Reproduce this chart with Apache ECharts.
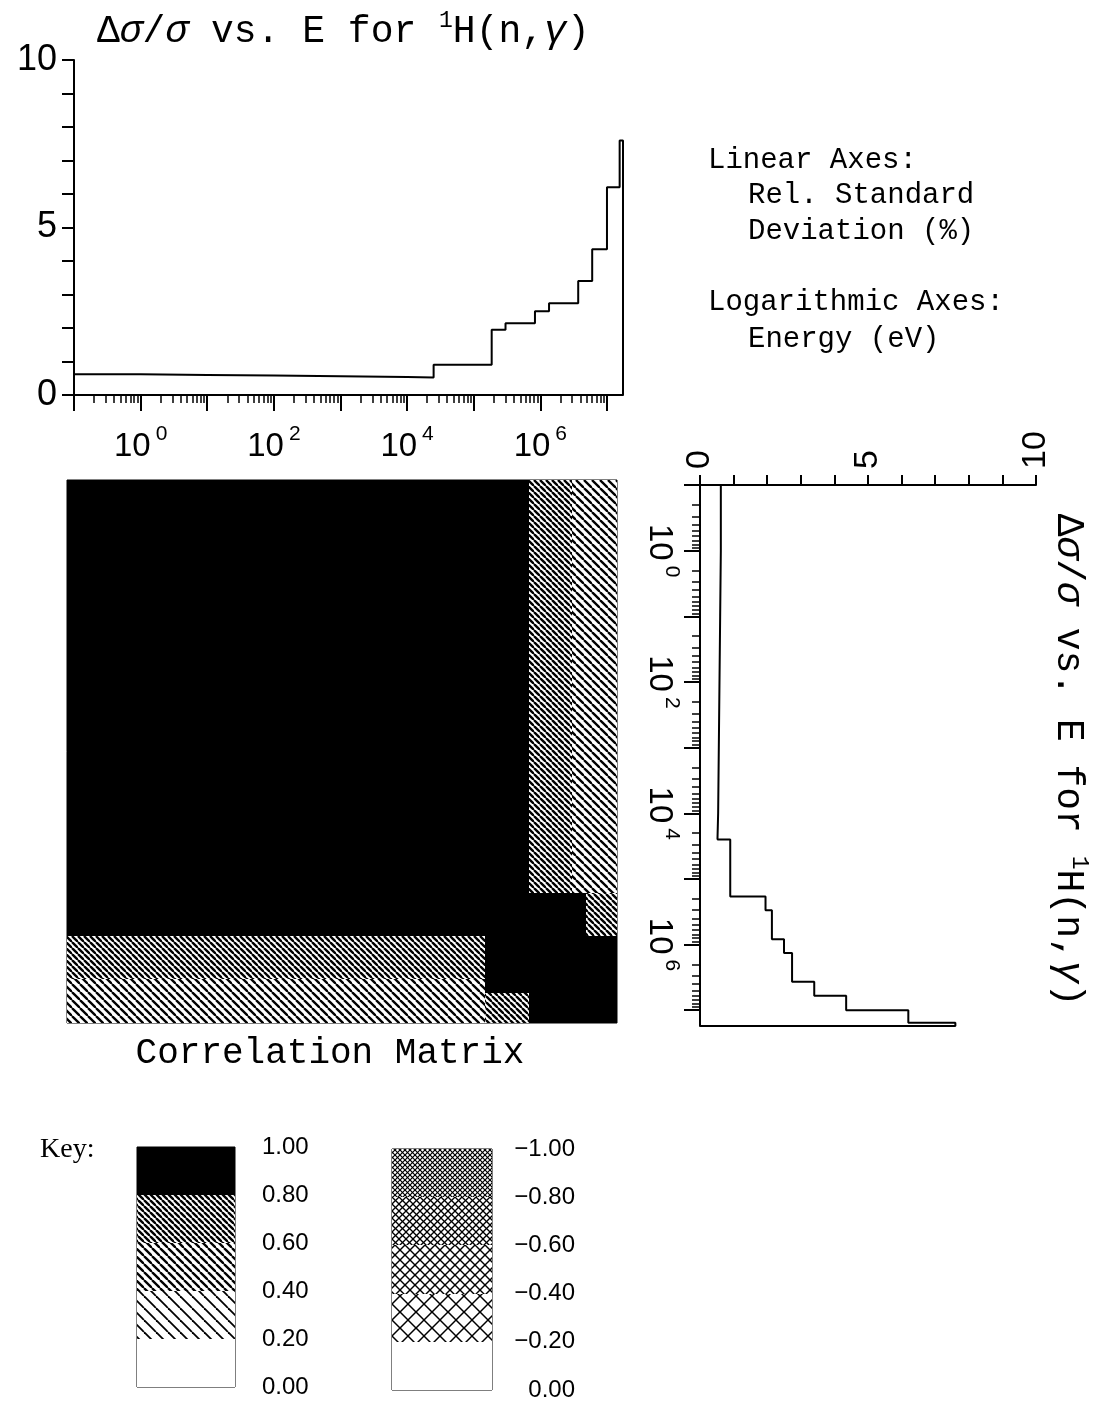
<!DOCTYPE html>
<html><head><meta charset="utf-8">
<script src="https://cdn.jsdelivr.net/npm/echarts@6/dist/echarts.min.js"></script>
<style>html,body{margin:0;padding:0;background:#fff}#c{width:1096px;height:1403px}</style>
</head><body><div id="c"></div>
<script>
// ---- data ----
// energy group boundaries (eV)
const energyEdges = [0.1, 1, 10, 100, 1000, 1e4, 2.5e4, 1.86e5, 3.0e5, 8.3e5, 1.35e6, 3.7e6, 6.0e6, 1.0e7, 1.55e7, 1.74e7];
// relative standard deviation (%) in each group
const relStdDev = [0.62, 0.60, 0.58, 0.56, 0.54, 0.52, 0.90, 1.95, 2.14, 2.50, 2.74, 3.40, 4.35, 6.20, 7.60];
// correlation matrix between groups
const correlation = [
  [1.00,0.95,0.95,0.95,0.95,0.95,0.92,0.85,0.85,0.70,0.70,0.50,0.50,0.50,0.50],
  [0.95,1.00,0.95,0.95,0.95,0.95,0.92,0.85,0.85,0.70,0.70,0.50,0.50,0.50,0.50],
  [0.95,0.95,1.00,0.95,0.95,0.95,0.92,0.85,0.85,0.70,0.70,0.50,0.50,0.50,0.50],
  [0.95,0.95,0.95,1.00,0.95,0.95,0.92,0.85,0.85,0.70,0.70,0.50,0.50,0.50,0.50],
  [0.95,0.95,0.95,0.95,1.00,0.95,0.92,0.85,0.85,0.70,0.70,0.50,0.50,0.50,0.50],
  [0.95,0.95,0.95,0.95,0.95,1.00,0.92,0.85,0.85,0.70,0.70,0.50,0.50,0.50,0.50],
  [0.92,0.92,0.92,0.92,0.92,0.92,1.00,0.85,0.85,0.70,0.70,0.50,0.50,0.50,0.50],
  [0.85,0.85,0.85,0.85,0.85,0.85,0.85,1.00,0.95,0.85,0.85,0.85,0.70,0.70,0.70],
  [0.85,0.85,0.85,0.85,0.85,0.85,0.85,0.95,1.00,0.85,0.85,0.85,0.70,0.70,0.70],
  [0.70,0.70,0.70,0.70,0.70,0.70,0.70,0.85,0.85,1.00,0.95,0.90,0.88,0.88,0.88],
  [0.70,0.70,0.70,0.70,0.70,0.70,0.70,0.85,0.85,0.95,1.00,0.90,0.88,0.88,0.88],
  [0.50,0.50,0.50,0.50,0.50,0.50,0.50,0.85,0.85,0.90,0.90,1.00,0.90,0.90,0.90],
  [0.50,0.50,0.50,0.50,0.50,0.50,0.50,0.70,0.70,0.88,0.88,0.90,1.00,0.95,0.93],
  [0.50,0.50,0.50,0.50,0.50,0.50,0.50,0.70,0.70,0.88,0.88,0.90,0.95,1.00,0.95],
  [0.50,0.50,0.50,0.50,0.50,0.50,0.50,0.70,0.70,0.88,0.88,0.90,0.93,0.95,1.00]
];
// axis labels
const energyLabelExponents = [0, 2, 4, 6];
const energyDecades = [-1, 0, 1, 2, 3, 4, 5, 6, 7];
const linearLabels = [0, 5, 10];
const keyPositive = [0.00, 0.20, 0.40, 0.60, 0.80, 1.00];
const keyNegative = [0.00, -0.20, -0.40, -0.60, -0.80, -1.00];
const titleText = '{n|\u0394}{i|\u03c3}{n|/}{i|\u03c3}{n| vs. E for }{s|1}{n|H(n,}{i|\u03b3}{n|)}';

// ---- helpers ----
const lg = Math.log10;
const LMIN = lg(energyEdges[0]);
const LMAX = lg(energyEdges[energyEdges.length - 1]);
const minorTicks = [];
for (let n = Math.floor(LMIN); n <= Math.ceil(LMAX); n++) {
  for (let k = 2; k <= 9; k++) { const v = n + lg(k); if (v > LMIN && v < LMAX) minorTicks.push(v); }
}
function hatch(s, lw, cross) {
  const c = document.createElement('canvas');
  c.width = s; c.height = s;
  const g = c.getContext('2d');
  g.fillStyle = '#fff'; g.fillRect(0, 0, s, s);
  g.strokeStyle = '#000'; g.lineWidth = lw;
  for (let k = -1; k <= 1; k++) {
    g.beginPath(); g.moveTo(k * s, 0); g.lineTo(k * s + s, s); g.stroke();
    if (cross) { g.beginPath(); g.moveTo(k * s, s); g.lineTo(k * s + s, 0); g.stroke(); }
  }
  return { image: c, repeat: 'repeat' };
}
const pats = {
  p8: '#000',
  p6: hatch(6, 2.4, false),
  p4: hatch(8, 2.3, false),
  p2: hatch(12, 1.8, false),
  z: '#fff',
  n2: hatch(16, 1.5, true),
  n4: hatch(10, 1.4, true),
  n6: hatch(7, 1.3, true),
  n8: hatch(5, 1.2, true)
};
function fillFor(c) {
  if (c >= 0.8) return pats.p8;
  if (c >= 0.6) return pats.p6;
  if (c >= 0.4) return pats.p4;
  if (c >= 0.2) return pats.p2;
  if (c > -0.2) return pats.z;
  if (c > -0.4) return pats.n2;
  if (c > -0.6) return pats.n4;
  if (c > -0.8) return pats.n6;
  return pats.n8;
}

// ---- series data built from arrays ----
const topPts = [], sidePts = [];
for (let i = 0; i < relStdDev.length; i++) {
  topPts.push([lg(energyEdges[i]), relStdDev[i]], [lg(energyEdges[i + 1]), relStdDev[i]]);
  sidePts.push([relStdDev[i], lg(energyEdges[i])], [relStdDev[i], lg(energyEdges[i + 1])]);
}
topPts.push([LMAX, 0]);
sidePts.push([0, LMAX]);
const cells = [];
for (let r = 0; r < correlation.length; r++) for (let c = 0; c < correlation[r].length; c++) {
  cells.push([lg(energyEdges[c]), lg(energyEdges[c + 1]), lg(energyEdges[r]), lg(energyEdges[r + 1]), correlation[r][c]]);
}
const keyPosData = [], keyNegData = [];
for (let i = 0; i < keyPositive.length - 1; i++) {
  keyPosData.push([keyPositive[i], keyPositive[i + 1], (keyPositive[i] + keyPositive[i + 1]) / 2]);
  keyNegData.push([keyNegative[i + 1], keyNegative[i], (keyNegative[i] + keyNegative[i + 1]) / 2]);
}

const numFont = 'Liberation Sans';
const monoFont = 'Liberation Mono';
const expRich = {
  b: { fontFamily: numFont, fontSize: 33, color: '#000' },
  s: { fontFamily: numFont, fontSize: 21, color: '#000', padding: [0, 0, 25, 5] }
};
const expFmt = v => '{b|10}{s|' + Math.round(v) + '}';
const titleRich = {
  n: { fontFamily: monoFont, fontSize: 38, color: '#000' },
  i: { fontFamily: monoFont, fontSize: 38, fontStyle: 'italic', color: '#000' },
  s: { fontFamily: monoFont, fontSize: 23, color: '#000', padding: [0, 0, 22, 0] }
};
const blk = { color: '#000', width: 2 };
const noSplit = { show: false };

function rectRender(params, api) {
  const p0 = api.coord([api.value(0), api.value(2)]);
  const p1 = api.coord([api.value(1), api.value(3)]);
  const x0 = Math.round(Math.min(p0[0], p1[0])), x1 = Math.round(Math.max(p0[0], p1[0]));
  const y0 = Math.round(Math.min(p0[1], p1[1])), y1 = Math.round(Math.max(p0[1], p1[1]));
  return { type: 'rect', shape: { x: x0, y: y0, width: x1 - x0, height: y1 - y0 }, style: { fill: fillFor(api.value(4)) } };
}
function keyRender(params, api) {
  const p0 = api.coord([0, api.value(1)]);
  const p1 = api.coord([1, api.value(0)]);
  const x0 = Math.round(Math.min(p0[0], p1[0])), x1 = Math.round(Math.max(p0[0], p1[0]));
  const y0 = Math.round(Math.min(p0[1], p1[1])), y1 = Math.round(Math.max(p0[1], p1[1]));
  return { type: 'rect', shape: { x: x0, y: y0, width: x1 - x0, height: y1 - y0 }, style: { fill: fillFor(api.value(2)) } };
}

const chart = echarts.init(document.getElementById('c'), null, { renderer: 'canvas' });
chart.setOption({
  animation: false,
  backgroundColor: '#fff',
  grid: [
    { left: 74, top: 60, width: 549, height: 335 },
    { left: 67, top: 480, width: 550, height: 543, show: true, borderColor: '#000', borderWidth: 1 },
    { left: 700, top: 485, width: 336, height: 541 },
    { left: 137, top: 1147, width: 98, height: 240, show: true, borderColor: '#000', borderWidth: 1 },
    { left: 392, top: 1149, width: 100, height: 241, show: true, borderColor: '#000', borderWidth: 1 }
  ],
  xAxis: [
    { gridIndex: 0, type: 'value', min: LMIN, max: LMAX, position: 'bottom', splitLine: noSplit,
      axisLine: { onZero: false, lineStyle: blk },
      axisTick: { customValues: energyDecades, length: 16, lineStyle: { color: '#000', width: 2 } },
      axisLabel: { customValues: energyLabelExponents, formatter: expFmt, rich: expRich, margin: 29 } },
    { gridIndex: 0, type: 'value', min: LMIN, max: LMAX, position: 'bottom', splitLine: noSplit,
      axisLine: { show: false, onZero: false },
      axisTick: { customValues: minorTicks, length: 8, lineStyle: { color: '#000', width: 1.5 } },
      axisLabel: { show: false } },
    { gridIndex: 1, type: 'value', min: LMIN, max: LMAX, show: false },
    { gridIndex: 2, type: 'value', min: 0, max: 10, interval: 1, position: 'top', splitLine: noSplit,
      axisLine: { onZero: false, lineStyle: blk },
      axisTick: { length: 10, lineStyle: { color: '#000', width: 2 } },
      axisLabel: { customValues: linearLabels, rotate: -90, fontFamily: numFont, fontSize: 34, color: '#000', margin: 16 } },
    { gridIndex: 3, type: 'value', min: 0, max: 1, show: false },
    { gridIndex: 4, type: 'value', min: 0, max: 1, show: false }
  ],
  yAxis: [
    { gridIndex: 0, type: 'value', min: 0, max: 10, interval: 1, splitLine: noSplit,
      axisLine: { onZero: false, lineStyle: blk },
      axisTick: { length: 12, lineStyle: { color: '#000', width: 2 } },
      axisLabel: { customValues: linearLabels, fontFamily: numFont, fontSize: 36, color: '#000', margin: 17 } },
    { gridIndex: 1, type: 'value', min: LMIN, max: LMAX, inverse: true, show: false },
    { gridIndex: 2, type: 'value', min: LMIN, max: LMAX, inverse: true, position: 'left', splitLine: noSplit,
      axisLine: { onZero: false, lineStyle: blk },
      axisTick: { customValues: energyDecades, length: 16, lineStyle: { color: '#000', width: 2 } },
      axisLabel: { customValues: energyLabelExponents, formatter: expFmt, rich: expRich, rotate: -90, margin: 18 } },
    { gridIndex: 2, type: 'value', min: LMIN, max: LMAX, inverse: true, position: 'left', splitLine: noSplit,
      axisLine: { show: false, onZero: false },
      axisTick: { customValues: minorTicks, length: 8, lineStyle: { color: '#000', width: 1.5 } },
      axisLabel: { show: false } },
    { gridIndex: 3, type: 'value', min: 0, max: 1, interval: 0.2, position: 'right', splitLine: noSplit,
      axisLine: { show: false }, axisTick: { show: false },
      axisLabel: { formatter: v => v.toFixed(2), fontFamily: numFont, fontSize: 24, color: '#000', margin: 27 } },
    { gridIndex: 4, type: 'value', min: -1, max: 0, interval: 0.2, inverse: true, position: 'right', splitLine: noSplit,
      axisLine: { show: false }, axisTick: { show: false },
      axisLabel: { formatter: v => (v < -1e-9 ? '\u2212' : '') + Math.abs(v).toFixed(2), align: 'right',
        fontFamily: numFont, fontSize: 24, color: '#000', margin: 83 } }
  ],
  series: [
    { type: 'line', xAxisIndex: 0, yAxisIndex: 0, data: topPts, symbol: 'none', lineStyle: { color: '#000', width: 2 } },
    { type: 'line', xAxisIndex: 3, yAxisIndex: 2, data: sidePts, symbol: 'none', lineStyle: { color: '#000', width: 2 } },
    { type: 'custom', xAxisIndex: 2, yAxisIndex: 1, data: cells, renderItem: rectRender,
      encode: { x: [0, 1], y: [2, 3] } },
    { type: 'custom', xAxisIndex: 4, yAxisIndex: 4, data: keyPosData, renderItem: keyRender, encode: { y: [0, 1] } },
    { type: 'custom', xAxisIndex: 5, yAxisIndex: 5, data: keyNegData, renderItem: keyRender, encode: { y: [0, 1] } }
  ],
  graphic: [
    { type: 'text', x: 97, y: 32, style: { text: titleText, rich: titleRich, verticalAlign: 'middle', fill: '#000' } },
    { type: 'text', x: 1068, y: 760, rotation: -Math.PI / 2,
      style: { text: titleText, rich: titleRich, align: 'center', verticalAlign: 'middle', fill: '#000' } },
    { type: 'text', x: 708, y: 160, style: { text: 'Linear Axes:', font: '29px "Liberation Mono"', verticalAlign: 'middle', fill: '#000' } },
    { type: 'text', x: 748, y: 195, style: { text: 'Rel. Standard', font: '29px "Liberation Mono"', verticalAlign: 'middle', fill: '#000' } },
    { type: 'text', x: 748, y: 231, style: { text: 'Deviation (%)', font: '29px "Liberation Mono"', verticalAlign: 'middle', fill: '#000' } },
    { type: 'text', x: 708, y: 302, style: { text: 'Logarithmic Axes:', font: '29px "Liberation Mono"', verticalAlign: 'middle', fill: '#000' } },
    { type: 'text', x: 748, y: 339, style: { text: 'Energy (eV)', font: '29px "Liberation Mono"', verticalAlign: 'middle', fill: '#000' } },
    { type: 'text', x: 330, y: 1053, style: { text: 'Correlation Matrix', font: '36px "Liberation Mono"', align: 'center', verticalAlign: 'middle', fill: '#000' } },
    { type: 'text', x: 40, y: 1150, style: { text: 'Key:', font: '28px "Liberation Serif"', verticalAlign: 'middle', fill: '#000' } }
  ]
});
</script>
</body></html>
